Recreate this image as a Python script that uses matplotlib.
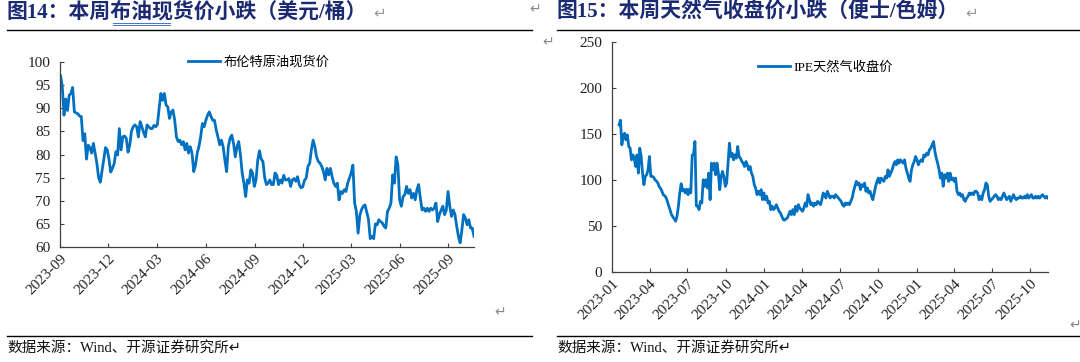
import numpy as np
import pandas as pd
import matplotlib
matplotlib.use("Agg")
import matplotlib.pyplot as plt
import matplotlib.dates as mdates
from matplotlib.lines import Line2D

# ---- data ----
brent_start, brent_end = "2023-09-02", "2025-10-19"
brent_values = [
    97, 94.8, 88.5, 92, 89.5, 92.8, 93.2, 94.5, 89.2, 89, 88.8, 88.3, 88.2, 83, 84.5, 79,
    82, 81.5, 80.3, 82.4, 80.3, 78.1, 75, 74, 76.5, 79, 81.5, 81, 79, 76.2, 77, 78,
    80.6, 79.9, 85.6, 81, 83.8, 84, 83.5, 80.5, 82, 85, 86, 86.4, 86, 83.8, 87.1, 86,
    84.8, 83.8, 86.4, 86, 85.6, 85.6, 86.3, 86, 86.5, 90, 93.2, 91.7,
    93.2, 90.7, 90.3, 87.8, 89.2, 89.6, 87.4, 83.8, 82.8, 83.1, 82.1, 82.8, 81, 82.4, 80.3, 81.7,
    80.3, 76.3, 77.7, 80.3, 81.7, 83.8, 86.7, 86, 87.4, 88.5, 89.2, 88.2, 87.4, 87.4, 85.3, 83.8,
    82.1, 83.1, 81.7, 78.8, 76.3, 81.7, 83.5, 84.2, 82.4, 79.5, 81.7, 82.8, 79.9, 76, 73.8, 70.9,
    74.5, 73.8, 76.7, 76, 73.1, 74.5, 78.8, 80.8, 79, 78.5, 75, 73.5, 73.8, 74.5, 73.5, 73.5,
    76, 75.5, 73.5, 74.5, 73.8, 75.5, 74.5, 74.5, 74.8, 73.1, 74.5, 74.8, 74.2, 75.2, 73.5, 72.8,
    73, 74.4, 74.9, 77.4, 78.1, 81, 83.1, 81.7, 79.5, 78.5, 78.1, 77.4, 76.3, 74.5, 77, 75.6,
    77, 75.2, 73.8, 73.1, 73.8, 70.2, 72, 71.6, 72.4, 72, 73.8, 74.9, 76, 77.7, 69.5, 67.7,
    63, 66.8, 68.1, 68.8, 69.1, 67.5, 66, 61.8, 62.3, 61.8, 65, 64.8, 65.9, 65.5, 65.2, 64.5,
    64.1, 67.7, 68.4, 69.5, 75.6, 73.8, 79.5, 77.8, 70.2, 68.8, 70.9, 71.3, 73.1, 71.6, 72.4, 70.6,
    71.6, 70.2, 72.4, 73.5, 70.5, 68, 68.4, 67.7, 68.4, 67.7, 68.4, 68, 68.4, 69.5, 65.5, 67,
    68, 68.8, 67, 68, 72, 68.8, 66.6, 68, 67, 64.5, 62.3, 60.9, 63.7, 67, 66.3, 64.8,
    65.9, 64.1, 64.1, 62.3,
]

gas_start, gas_end = "2023-01-18", "2025-11-12"
gas_values = [
    160, 165, 138.2, 147.2, 150.8, 143.6, 149, 136.4, 134.6, 121.9, 127.3, 123.7, 114.7, 127.3, 107.5, 134.6,
    125.5, 107.5, 94.9, 103.9, 105.7, 111.1, 125.5, 103.9, 104, 103, 100.3, 99, 97, 93.1, 91, 88,
    84.1, 83, 81, 76.8, 72, 67, 62.4, 60, 57.5, 55.2, 60.6, 71.4, 85.9, 96, 88, 90,
    86, 90, 84, 90, 86, 127, 128, 141.8, 72, 71.4, 67.8, 76.8, 75,
    100.3, 93.1, 100.3, 91.3, 107.5, 78.6, 118.3, 111.1, 118.3, 105.7, 118.3, 107.5, 89.5, 103.9, 109.3, 103.9,
    93.1, 96.7, 118.3, 140, 125.5, 129.1, 121.9, 127.3, 123.7, 136.4, 125.5, 123.7, 120.1, 118.3, 114.7, 120.1,
    116.5, 111.1, 114.7, 107.5, 103.9, 94.9, 91.3, 84.1, 87.7, 84.1, 89.5, 78.6, 85.9, 78.6, 82.3, 75,
    76.8, 67.8, 71.4, 67.8, 69.6, 73.2, 69.6, 66, 64.2, 60.6, 57, 56.3, 57.7, 58.8, 62.4, 66,
    62.4, 67.8, 62.4, 71.4, 66, 73.2, 69.6, 67.8, 66, 69.6, 75, 71.4, 84.1, 78.6, 73.2, 75,
    71.4, 75, 73.2, 76.8, 75, 73.2, 78.6, 85.9, 84.1, 80.4, 87.7, 84.1, 80.4, 82.3, 82.3, 80.4,
    84.1, 82.3, 80.4, 78.6, 76.8, 73.2, 71.4, 75, 73.2, 75, 73.2, 76.8, 80.4, 87.7, 93.1, 98.5,
    94.9, 96.7, 89.5, 94.9, 93.1, 96.7, 87.7, 91.3, 85.9, 87.7, 82.3, 78.6, 85.9, 93.1, 98.5, 102.1,
    96.7, 102.1, 100.3, 98.5, 103.9, 102.1, 111.1, 103.9, 107.5, 111.1, 116.5, 120.1, 116.5, 121.9, 118.3, 121.9,
    120.1, 118.3, 121.9, 112.9, 107.5, 102.1, 98.5, 111.1, 116.5, 120.1, 125.5, 121.9, 116.5, 120.1, 121.9, 120.1,
    127.3, 125.5, 129.1, 127.3, 132.8, 134.6, 138.2, 141.8, 130.9, 123.7, 118.3, 111.1, 102.1, 107.5, 93.1, 105.7,
    102.1, 107.5, 98.5, 107.5, 100.3, 102.1, 98.5, 102.1, 87.7, 84.1, 85.9, 82.3, 84.1, 78.6, 76.8, 80.4,
    82.3, 85.9, 84.1, 85.9, 84.1, 87.7, 87.7, 85.9, 78.6, 82.3, 78.6, 85.9, 89.5, 96.7, 94.9, 82.3,
    76.8, 78.6, 80.4, 82.3, 84.1, 82.3, 78.6, 80.4, 78.6, 82.3, 85.9, 82.3, 78.6, 80.4, 82.3, 76.8,
    80.4, 84.1, 80.4, 78.6, 80.4, 80.4, 82.3, 80.4, 80.4, 82.3, 80.4, 84.1, 80.4, 82.3, 84.1, 80.4,
    80.4, 82.3, 80.4, 82.3, 80.4, 82.3, 84.1, 82.3, 80.4, 82.3, 80.4,
]

title_left = "图14：本周布油现货价小跌（美元/桶）"
title_right = "图15：本周天然气收盘价小跌（便士/色姆）"
legend_left = "布伦特原油现货价"
legend_right = "IPE天然气收盘价"
source_text = "数据来源：Wind、开源证券研究所"

brent_dates = pd.date_range(brent_start, brent_end, periods=len(brent_values))
gas_dates = pd.date_range(gas_start, gas_end, periods=len(gas_values))

LINE_BLUE = "#0070C0"
TITLE_BLUE = "#1B2A72"
SERIF = ["Liberation Serif", "Noto Sans CJK SC", "DejaVu Sans"]
plt.rcParams["font.family"] = SERIF

fig = plt.figure(figsize=(10.8, 3.62), dpi=100)
W, H = 1080, 362


def fx(px):
    return px / W


def fy(py):
    return 1 - py / H


def style_axes(ax):
    for side in ("top", "right"):
        ax.spines[side].set_visible(False)
    for side in ("left", "bottom"):
        ax.spines[side].set_color("#404040")
        ax.spines[side].set_linewidth(0.9)
    ax.tick_params(direction="in", length=3, width=0.8, color="#404040",
                   labelsize=11, labelcolor="#222222")
    ax.tick_params(axis="y", pad=7)
    ax.xaxis.set_major_formatter(mdates.DateFormatter("%Y-%m"))
    for lab in ax.get_xticklabels():
        lab.set_rotation(45)
        lab.set_ha("right")
        lab.set_rotation_mode("anchor")


# left chart: Brent
ax1 = fig.add_axes([fx(60), fy(247), fx(414), 185 / H])
ax1.plot(brent_dates, brent_values, color=LINE_BLUE, lw=2.0, label=legend_left)
ax1.set_ylim(60, 100)
ax1.set_yticks(np.arange(60, 101, 5))
ax1.set_xlim(pd.Timestamp("2023-09-01"), brent_dates[-1])
ax1.xaxis.set_major_locator(mdates.MonthLocator(bymonth=[3, 6, 9, 12]))
style_axes(ax1)
ax1.legend(loc="upper center", bbox_to_anchor=(0.48, 1.1), frameon=False,
           handlelength=2.4, handletextpad=0.3,
           prop={"family": ["Noto Sans CJK SC"], "size": 9.5})

# right chart: IPE gas
ax2 = fig.add_axes([fx(612), fy(272), fx(436), 230 / H])
ax2.plot(gas_dates, gas_values, color=LINE_BLUE, lw=2.0, label=legend_right)
ax2.set_ylim(0, 250)
ax2.set_yticks(np.arange(0, 251, 50))
ax2.set_xlim(pd.Timestamp("2023-01-01"), gas_dates[-1])
ax2.xaxis.set_major_locator(mdates.MonthLocator(bymonth=[1, 4, 7, 10]))
style_axes(ax2)
ax2.legend(loc="upper center", bbox_to_anchor=(0.49, 0.97), frameon=False,
           handlelength=2.4, handletextpad=0.3, prop={"family": SERIF, "size": 9.5})

# titles, rules and source notes
for x0, x1, title in ((7, 532, title_left), (557, 1080, title_right)):
    t = fig.text(fx(x0), fy(12), title, fontsize=15, fontweight="bold",
                 color=TITLE_BLUE, va="center", ha="left")
    fig.add_artist(Line2D([fx(x0), fx(x1)], [fy(30), fy(30)], color="black", lw=1))
    fig.add_artist(Line2D([fx(x0), fx(x1)], [fy(336), fy(336)], color="black", lw=1))
    fig.text(fx(x0), fy(348), source_text + "↵", fontsize=10.5, color="#111111",
             va="center", ha="left")
    # grey paragraph mark right after the title
    fig.canvas.draw()
    bb = t.get_window_extent()
    fig.text((bb.x1 + 6) / W, fy(13), "↵", fontsize=11, color="#999999",
             ha="left", va="center", family=["DejaVu Sans"])

# blue double underline under 布油现 in the left title
for py in (23, 25):
    fig.add_artist(Line2D([fx(113), fx(170)], [fy(py), fy(py)], color="#4472C4", lw=0.7))

# small paragraph marks from the document
for px, py in ((535, 9), (548, 42), (500, 312), (1075, 325)):
    fig.text(fx(px), fy(py), "↵", fontsize=10, color="#888888", ha="center", va="center",
             family=["DejaVu Sans"])

fig.savefig("out.png", dpi=100, facecolor="white")
